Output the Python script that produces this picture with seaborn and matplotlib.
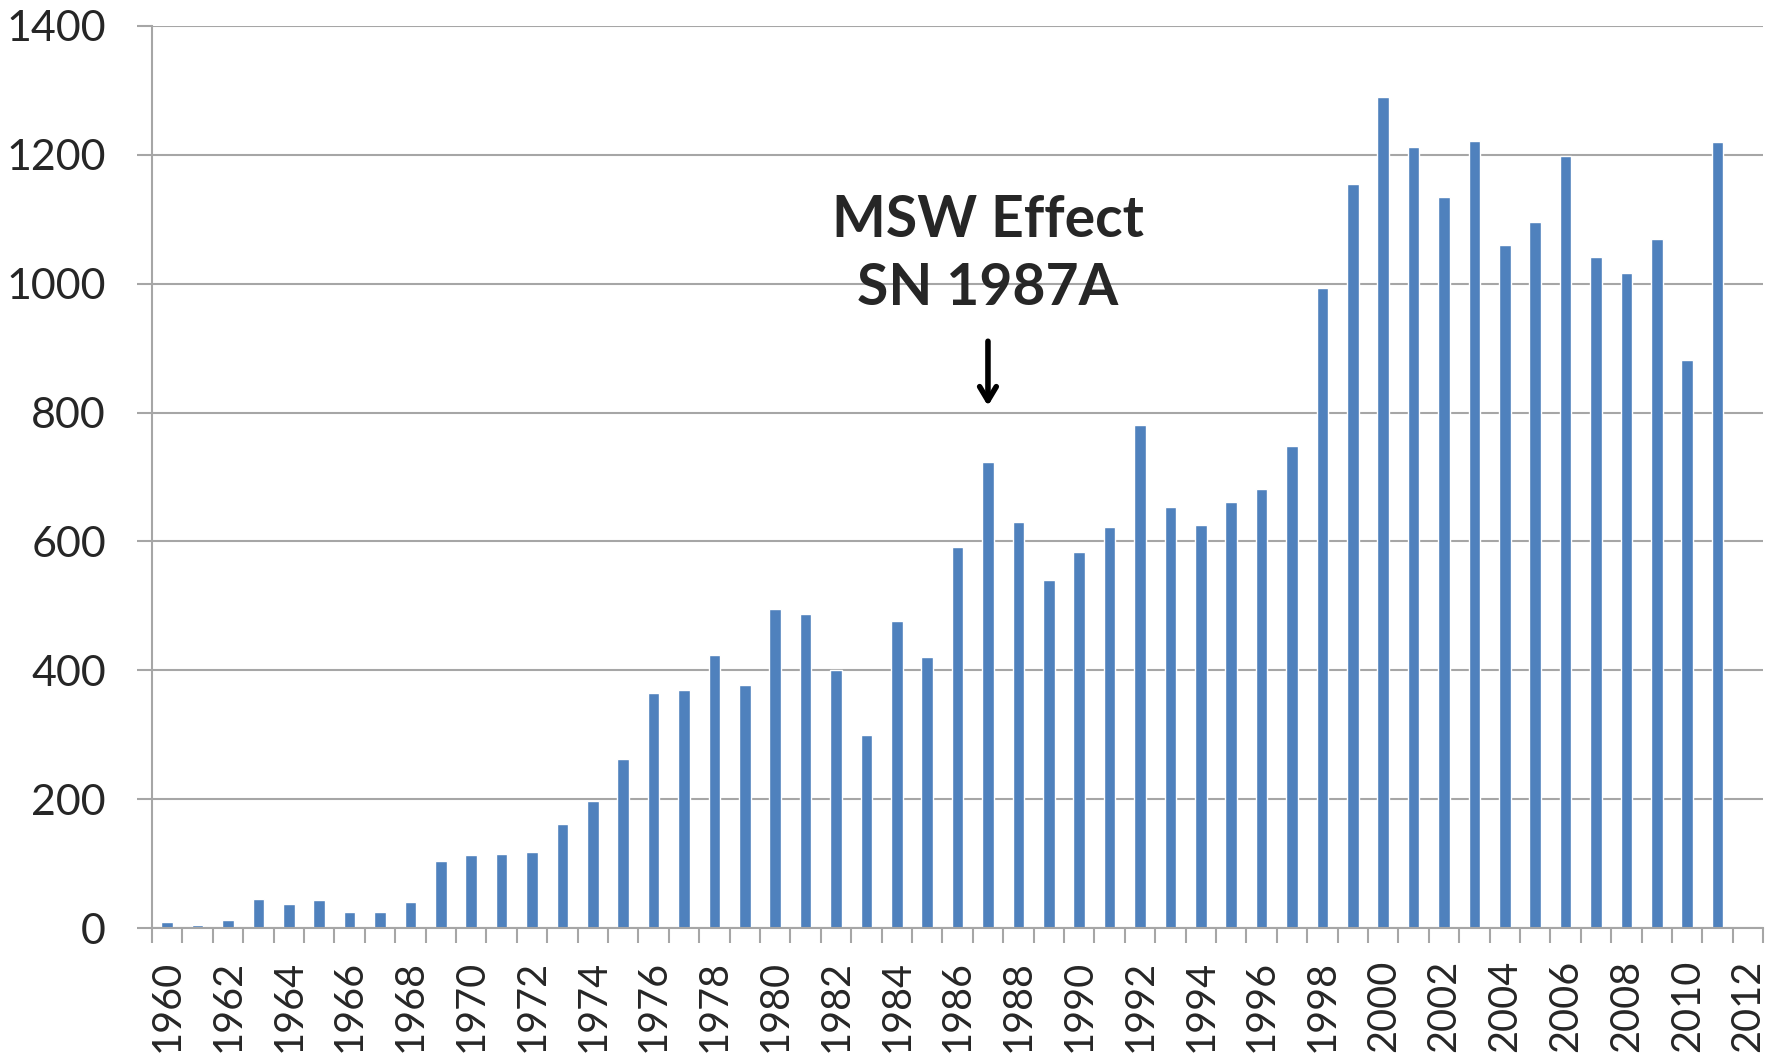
import numpy as np
import pandas as pd
import matplotlib
matplotlib.use("Agg")
import matplotlib.pyplot as plt
import seaborn as sns

# yearly counts (2012 slot is empty)
years = list(range(1960, 2012))
counts = [10, 5, 12, 45, 37, 43, 25, 25, 40, 104,
          113, 115, 118, 162, 197, 263, 365, 370, 423, 377,
          495, 488, 400, 300, 476, 421, 591, 723, 630, 540,
          584, 623, 781, 653, 626, 661, 681, 748, 993, 1155,
          1289, 1212, 1134, 1222, 1060, 1095, 1198, 1041, 1016, 1069,
          882, 1220]
axis_years = list(range(1960, 2013))
yticks = [0, 200, 400, 600, 800, 1000, 1200, 1400]
note_text = "MSW Effect\nSN 1987A"
note_year = 1987

BAR_COLOR = "#4f81bd"
GRID_COLOR = "#a6a6a6"

sns.set_style("white")
plt.rcParams['font.family'] = ['Lato', 'DejaVu Sans']

df = pd.DataFrame({'year': [str(y) for y in years], 'count': counts})
order = [str(y) for y in axis_years]

fig = plt.figure(figsize=(17.81, 10.56), dpi=100)
ax = fig.add_axes([0.0853, 0.1212, 0.9047, 0.8542])

sns.barplot(data=df, x='year', y='count', order=order, color=BAR_COLOR,
            width=0.38, saturation=1, ax=ax)

n = len(axis_years)
ax.set_xlim(-0.5, n - 0.5)
# labels on even years at category centres, tick marks on the boundaries
ax.set_xticks([i for i, y in enumerate(axis_years) if y % 2 == 0])
ax.set_xticklabels([str(y) for y in axis_years if y % 2 == 0],
                   rotation=90, fontsize=28.5)
ax.set_xticks([i - 0.5 for i in range(n + 1)], minor=True)
ax.set_ylim(0, 1400)
ax.set_yticks(yticks)
ax.set_yticklabels([str(v) for v in yticks], fontsize=31)
ax.set_xlabel('')
ax.set_ylabel('')

ax.tick_params(axis='x', which='major', length=0, pad=23)
ax.tick_params(axis='x', which='minor', length=11, width=1.5,
               color=GRID_COLOR, bottom=True, direction='out')
ax.tick_params(axis='y', length=11, width=1.5, color=GRID_COLOR, pad=22,
               left=True, direction='out')

ax.yaxis.grid(True, color=GRID_COLOR, linewidth=1.5)
ax.set_axisbelow(True)
for side in ['top', 'right']:
    ax.spines[side].set_visible(False)
for side in ['left', 'bottom']:
    ax.spines[side].set_color(GRID_COLOR)
    ax.spines[side].set_linewidth(1.5)

# annotation
xi = order.index(str(note_year))
ax.text(xi, 1045, note_text, ha='center', va='center', fontsize=41,
        fontweight='bold', linespacing=1.35)
ax.annotate('', xy=(xi, 806), xytext=(xi, 915),
            arrowprops=dict(arrowstyle='->,head_length=1.0,head_width=0.6',
                            lw=4, color='black'))

fig.savefig('out.png', dpi=100)
